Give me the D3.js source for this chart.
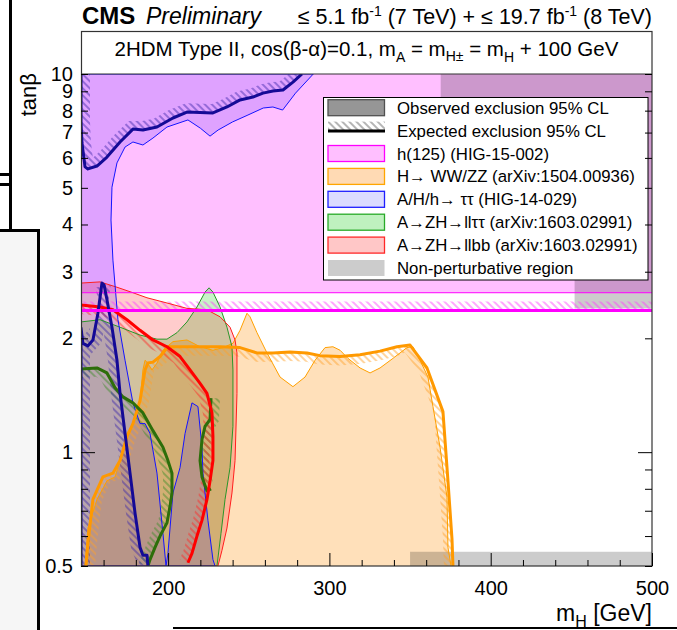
<!DOCTYPE html>
<html>
<head>
<meta charset="utf-8">
<script src="https://cdn.jsdelivr.net/npm/d3@7"></script>
<style>
html, body { margin: 0; padding: 0; background: #fff; }
svg { display: block; font-family: "Liberation Sans", Arial, Helvetica, sans-serif; }
</style>
</head>
<body>
<svg id="chart" width="677" height="630"></svg>
<script>
"use strict";

// ---- data (mH [GeV], tanb) ----
var yTickLabels = [0.5, 1, 2, 3, 4, 5, 6, 7, 8, 9, 10],
	yMinorTicks = [0.6, 0.7, 0.8, 0.9],
	xTickLabels = [200, 300, 400, 500],
	xMinorTicks = [160, 180, 220, 240, 260, 280, 320, 340, 360, 380, 420, 440, 460, 480];

var h125Fill = [[146, 2.64], [500, 2.64], [500, 10], [146, 10]],
	h125Obs = [[146, 2.64], [500, 2.64]],
	h125Exp = [[146, 2.37], [500, 2.37]];

var tauObs = [[146, 10], [290, 10], [279, 8.9], [271, 8.03], [265, 8.18], [259, 8.13], [249.5, 7.79], [240, 7.47],
	[231, 7.11], [226, 6.85], [220, 7.19], [212.3, 7.56], [199.3, 7.24], [190.6, 6.77], [184.4, 6.49], [178.2, 6.61],
	[173.3, 6.41], [168.3, 5.82], [165.2, 5.02], [164.6, 4.11], [165.8, 3.22], [168.9, 2.24], [173.3, 1.75],
	[178.2, 1.35], [182.6, 1.19], [185.7, 1.19], [188.8, 1.12], [193.1, 0.88], [196.8, 0.61], [198.7, 0.5],
	[199.9, 0.54], [203, 0.78], [207.4, 0.91], [210.5, 1.12], [214.8, 1.35], [218.5, 1.32], [221, 1.03],
	[221.6, 0.88], [224.7, 0.66], [227.8, 0.52], [229.1, 0.5], [146, 0.5]];
var tauExpHigh = [[146, 10], [146, 7.47], [146.6, 6.57], [148.5, 5.68], [150.3, 5.61], [155.9, 5.71], [162.1, 6.03],
	[170.2, 6.61], [178.2, 7.15], [184.4, 7.11], [193.1, 7.24], [203, 7.65], [211.7, 7.93], [227.8, 7.89],
	[236.5, 8.18], [244.6, 8.54], [252.6, 8.69], [258.8, 8.9], [265, 9.02], [271.2, 9.07], [277.4, 9.52], [283, 10]];
var tauExpLow = [[146, 0.5], [146, 2.13], [147.2, 1.94], [150.3, 1.91], [153.4, 1.98], [156.5, 2.33], [159, 2.8],
	[160.3, 2.77], [162.1, 2.53], [165.2, 2.14], [168.3, 1.75], [170.2, 1.43], [173.3, 1.12], [176.4, 0.88],
	[179.5, 0.69], [182.6, 0.56], [184.4, 0.534], [186.9, 0.534], [187.5, 0.5]];

var llbbObs = [[146, 2.8], [157.8, 2.82], [168.3, 2.73], [178.2, 2.64], [186.9, 2.56], [199.3, 2.48], [211.7, 2.4],
	[224.1, 2.38], [232.2, 2.28], [238.4, 2.14], [241.5, 1.98], [242.7, 1.83], [242.7, 1.43], [241.5, 0.95],
	[239.6, 0.78], [236.5, 0.63], [233.4, 0.55], [230.9, 0.5], [146, 0.5]];
var llbbExp = [[146, 2.45], [157.8, 2.42], [165.8, 2.38], [174.5, 2.24], [182.6, 2.1], [190.6, 1.98], [199.3, 1.9],
	[207.4, 1.79], [213.6, 1.65], [219.8, 1.52], [224.1, 1.43], [227.2, 1.27], [227.8, 1.1], [227.8, 0.95],
	[226, 0.84], [224.1, 0.75], [221, 0.66], [217.9, 0.6], [214.8, 0.54], [212.3, 0.51]];

var llttObs = [[146, 2.21], [157.8, 2.24], [170.2, 2.14], [182.6, 2.04], [193.1, 1.99], [199.3, 1.99], [205.5, 2.07],
	[211.7, 2.21], [217.9, 2.42], [222.9, 2.65], [225.4, 2.72], [227.8, 2.65], [232.2, 2.42], [236.5, 2.14],
	[239.6, 1.9], [240.2, 1.65], [240.2, 1.17], [238.4, 0.91], [235.3, 0.75], [232.8, 0.61], [230.3, 0.5], [146, 0.5]];
var llttExp = [[146, 1.66], [155.9, 1.67], [162.1, 1.62], [167.1, 1.48], [172, 1.4], [178.2, 1.35], [184.4, 1.27],
	[190.6, 1.14], [196.8, 1.03], [199.9, 0.95], [202.4, 0.88], [202.4, 0.78], [201.2, 0.72], [199.3, 0.65],
	[195, 0.6], [191.9, 0.56], [188.8, 0.52], [187.5, 0.5]];
var llttExpIsland = [[226.6, 1.39], [226, 1.22], [222.9, 1.17], [221, 1.08], [219.8, 0.95], [221, 0.86],
	[224.1, 0.79], [226.6, 0.8]];

var wwzzObs = [[148.5, 0.5], [150.3, 0.63], [155.9, 0.75], [162.1, 0.84], [167.1, 0.86], [170.2, 0.95], [174.5, 1.12],
	[178.2, 1.19], [182.6, 1.37], [184.4, 1.65], [185.7, 1.75], [186.9, 1.73], [190, 1.65], [193.1, 1.72],
	[196.8, 1.86], [203, 1.96], [211.7, 1.98], [219.8, 1.9], [227.8, 1.86], [234, 1.89], [240.2, 1.94],
	[244.6, 2.1], [248.9, 2.33], [250.8, 2.28], [255.1, 2.07], [261.3, 1.83], [269.4, 1.58], [277.4, 1.49],
	[284.9, 1.58], [291.1, 1.75], [297.3, 1.89], [302.2, 1.9], [306.6, 1.86], [311.5, 1.77], [319, 1.67],
	[325.2, 1.62], [331.4, 1.67], [339.4, 1.77], [348.1, 1.89], [351.8, 1.9], [356.2, 1.75], [361.1, 1.58],
	[364.2, 1.32], [368.6, 1.03], [372.9, 0.76], [373.5, 0.56], [375.4, 0.5]];
var wwzzExp = [[149.1, 0.5], [150.3, 0.575], [153.4, 0.75], [159.6, 0.86], [165.8, 0.88], [170.2, 0.95], [174.5, 1.1],
	[178.2, 1.19], [182.6, 1.37], [185.7, 1.65], [187.5, 1.72], [190.6, 1.73], [195, 1.79], [199.9, 1.9],
	[207.4, 1.9], [219.8, 1.9], [232.2, 1.9], [244.6, 1.89], [255.1, 1.83], [265, 1.83], [275.6, 1.84],
	[286.1, 1.83], [294.2, 1.8], [306.6, 1.79], [319, 1.81], [331.4, 1.85], [341.9, 1.9], [350, 1.92],
	[360.5, 1.67], [370.4, 1.28], [373.5, 0.84], [376, 0.59], [376.6, 0.5]];

var npTop = [[369, 10], [500, 10], [500, 2.4], [452, 2.4], [452, 4], [369, 4]],
	npBottom = [[350, 0.5], [500, 0.5], [500, 0.545], [350, 0.545]];

var legendLabels = ["Observed exclusion 95% CL", "Expected exclusion 95% CL", "h(125) (HIG-15-002)",
	"H\u2192 WW/ZZ (arXiv:1504.00936)", "A/H/h\u2192 \u03c4\u03c4 (HIG-14-029)",
	"A\u2192ZH\u2192ll\u03c4\u03c4 (arXiv:1603.02991)", "A\u2192ZH\u2192llbb (arXiv:1603.02991)",
	"Non-perturbative region"];

// ---- styles ----
var col = {
	pink: { fill: "rgb(255,191,255)", line: "rgb(255,0,255)", thick: "rgb(255,0,255)" },
	ww: { fill: "rgba(255,140,0,0.27)", line: "rgb(255,160,0)", thick: "rgb(255,153,0)" },
	tau: { fill: "rgba(40,0,255,0.15)", line: "rgb(20,20,255)", thick: "rgb(20,10,150)" },
	lltt: { fill: "rgba(0,200,0,0.22)", line: "rgb(40,150,40)", thick: "rgb(45,110,10)" },
	llbb: { fill: "rgba(255,0,0,0.2)", line: "rgb(255,30,30)", thick: "rgb(255,0,0)" },
	np: "rgba(0,0,0,0.2)"
};

var svg = d3.select("#chart"),
	x = d3.scaleLinear().domain([146, 500]).range([81, 652]),
	y = d3.scaleLog().domain([0.5, 10]).range([566, 74]);

function px(pts) {
	return pts.map(function(d) { return [x(d[0]), y(d[1])]; });
}

var line = d3.line();

// polygon of width w on one side of a polyline, for the hatched band
function hatchBand(pts, w, side) {
	var n = pts.length, off = [], i, a, b, dx, dy, len;
	for (i = 0; i < n; i++) {
		a = pts[Math.max(i - 1, 0)];
		b = pts[Math.min(i + 1, n - 1)];
		dx = b[0] - a[0];
		dy = b[1] - a[1];
		len = Math.sqrt(dx * dx + dy * dy) || 1;
		off.push([pts[i][0] - side * dy / len * w, pts[i][1] + side * dx / len * w]);
	}
	return pts.concat(off.reverse());
}

// ---- background artefacts at the left edge ----
svg.append("rect").attr("x", 0).attr("y", 231).attr("width", 37).attr("height", 399).attr("fill", "#f6f6f6");
[[9, 0, 3, 231], [0, 173, 11, 3], [0, 183, 11, 3], [0, 229, 40, 3], [37, 229, 3, 401], [173, 627, 504, 2]]
	.forEach(function(r) {
		svg.append("rect").attr("x", r[0]).attr("y", r[1]).attr("width", r[2]).attr("height", r[3]).attr("fill", "#000");
	});

// ---- defs: clip + hatches ----
var defs = svg.append("defs");
defs.append("clipPath").attr("id", "plotClip")
	.append("rect").attr("x", 81).attr("y", 74).attr("width", 571).attr("height", 492);

function hatch(id, color, w) {
	var p = defs.append("pattern").attr("id", id)
		.attr("patternUnits", "userSpaceOnUse")
		.attr("width", 5).attr("height", 5)
		.attr("patternTransform", "rotate(-45)");
	p.append("line").attr("x1", 1).attr("y1", 0).attr("x2", 1).attr("y2", 5)
		.attr("stroke", color).attr("stroke-width", w || 0.9);
}
hatch("h-pink", "rgb(255,60,255)");
hatch("h-ww", "rgb(255,160,40)");
hatch("h-tau", "rgb(60,40,170)");
hatch("h-lltt", "rgb(60,140,40)");
hatch("h-llbb", "rgb(255,40,40)");
hatch("h-leg", "rgb(90,90,90)");

// ---- plot ----
var plotG = svg.append("g").attr("clip-path", "url(#plotClip)");

function fillArea(pts, color) {
	plotG.append("path").attr("d", line(px(pts)) + "Z").attr("fill", color).attr("stroke", "none");
}
function outline(pts, color, width, closed) {
	plotG.append("path").attr("d", line(px(pts)) + (closed ? "Z" : ""))
		.attr("fill", "none").attr("stroke", color).attr("stroke-width", width).attr("stroke-linejoin", "round");
}
function band(pts, id, side) {
	plotG.append("path").attr("d", line(hatchBand(px(pts), 9, side)) + "Z")
		.attr("fill", "url(#" + id + ")").attr("stroke", "none");
}

fillArea(h125Fill, col.pink.fill);
fillArea(wwzzObs, col.ww.fill);
fillArea(llttObs, col.lltt.fill);
fillArea(llbbObs, col.llbb.fill);
fillArea(tauObs, col.tau.fill);
fillArea(npTop, col.np);
fillArea(npBottom, col.np);

band(h125Exp, "h-pink", -1);
band(wwzzExp, "h-ww", 1);
band(llttExp, "h-lltt", 1);
band(llttExpIsland, "h-lltt", -1);
band(llbbExp, "h-llbb", 1);
band(tauExpHigh, "h-tau", -1);
band(tauExpLow, "h-tau", 1);

outline(wwzzObs, col.ww.line, 1, false);
outline(llttObs, col.lltt.line, 1, false);
outline(llbbObs, col.llbb.line, 1, false);
outline(tauObs, col.tau.line, 1, false);
outline(h125Obs, col.pink.line, 1, false);

outline(wwzzExp, col.ww.thick, 3);
outline(llttExp, col.lltt.thick, 3);
outline(llttExpIsland, col.lltt.thick, 3);
outline(llbbExp, col.llbb.thick, 3);
outline(tauExpHigh, col.tau.thick, 3);
outline(tauExpLow, col.tau.thick, 3);
outline(h125Exp, col.pink.thick, 3);

// ---- legend ----
var leg = svg.append("g");
leg.append("rect").attr("x", 323.5).attr("y", 97.5).attr("width", 324.5).attr("height", 182.5)
	.attr("fill", "#fff").attr("stroke", "#000").attr("stroke-width", 1);

var swatches = [
	{ fill: "rgb(150,150,150)", stroke: "rgb(80,80,80)" },
	null,
	{ fill: "rgb(255,191,255)", stroke: "rgb(255,0,255)" },
	{ fill: "rgb(255,218,180)", stroke: "rgb(255,165,0)" },
	{ fill: "rgb(219,219,255)", stroke: "rgb(30,30,255)" },
	{ fill: "rgb(191,241,191)", stroke: "rgb(40,170,40)" },
	{ fill: "rgb(255,199,199)", stroke: "rgb(255,40,40)" },
	{ fill: "rgb(204,204,204)", stroke: "none" }
];

legendLabels.forEach(function(label, i) {
	var cy = 107.7 + i * 22.9;
	if (swatches[i]) {
		leg.append("rect").attr("x", 328).attr("y", cy - 8).attr("width", 56.5).attr("height", 16)
			.attr("fill", swatches[i].fill).attr("stroke", swatches[i].stroke).attr("stroke-width", 1.3);
	} else {
		leg.append("rect").attr("x", 328).attr("y", cy - 9).attr("width", 57).attr("height", 9)
			.attr("fill", "url(#h-leg)");
		leg.append("line").attr("x1", 328).attr("x2", 385).attr("y1", cy + 0.5).attr("y2", cy + 0.5)
			.attr("stroke", "#000").attr("stroke-width", 3);
	}
	leg.append("text").attr("x", 397).attr("y", cy + 6).attr("font-size", 16.8).attr("fill", "#000").text(label);
});

// ---- frame + header box ----
svg.append("rect").attr("x", 81).attr("y", 31).attr("width", 571).attr("height", 43).attr("fill", "#fff");
svg.append("rect").attr("x", 81.5).attr("y", 31.5).attr("width", 570.5).attr("height", 534.5)
	.attr("fill", "none").attr("stroke", "#333").attr("stroke-width", 1.2);
svg.append("line").attr("x1", 81).attr("x2", 652).attr("y1", 74).attr("y2", 74)
	.attr("stroke", "#333").attr("stroke-width", 1.2);

var hdr = svg.append("text").attr("x", 366.5).attr("y", 56).attr("text-anchor", "middle")
	.attr("font-size", 20.5).attr("fill", "#000");
hdr.append("tspan").text("2HDM Type II, cos(\u03b2-\u03b1)=0.1, m");
hdr.append("tspan").attr("dy", 6).attr("font-size", 14).text("A");
hdr.append("tspan").attr("dy", -6).text(" = m");
hdr.append("tspan").attr("dy", 5).attr("font-size", 14).text("H\u00b1");
hdr.append("tspan").attr("dy", -5).text(" = m");
hdr.append("tspan").attr("dy", 6).attr("font-size", 14).text("H");
hdr.append("tspan").attr("dy", -6).text(" + 100 GeV");

// ---- axes ----
function styleAxis(g) {
	g.select(".domain").remove();
	g.attr("font-size", 20).attr("font-family", "'Liberation Sans', Arial, Helvetica, sans-serif");
	g.selectAll(".tick line").attr("stroke", "#000").attr("stroke-width", 1);
	g.selectAll(".tick text").attr("font-size", 20).attr("fill", "#000");
}

var yAxisG = svg.append("g").attr("transform", "translate(81,0)")
	.call(d3.axisLeft(y).tickValues(yTickLabels).tickSize(-7).tickPadding(8).tickFormat(d3.format("")))
	.call(styleAxis);
yAxisG.selectAll(".tick line").filter(function(d) { return d === 1; }).attr("x2", 14);
svg.append("g").attr("transform", "translate(81,0)")
	.call(d3.axisLeft(y).tickValues(yMinorTicks).tickSize(-7).tickFormat(""))
	.call(styleAxis);

var yRightG = svg.append("g").attr("transform", "translate(652,0)")
	.call(d3.axisRight(y).tickValues(yTickLabels.concat(yMinorTicks)).tickSize(-7).tickFormat(""))
	.call(styleAxis);
yRightG.selectAll(".tick line").filter(function(d) { return d === 1; }).attr("x2", -14);

svg.append("g").attr("transform", "translate(0,566)")
	.call(d3.axisBottom(x).tickValues(xTickLabels).tickSize(-13).tickPadding(15).tickFormat(d3.format("")))
	.call(styleAxis);
svg.append("g").attr("transform", "translate(0,566)")
	.call(d3.axisBottom(x).tickValues(xMinorTicks).tickSize(-6).tickFormat(""))
	.call(styleAxis);

// axis titles
svg.append("text").attr("transform", "translate(36,73) rotate(-90)").attr("text-anchor", "end")
	.attr("font-size", 22).attr("fill", "#000").text("tan\u03b2");

var xt = svg.append("text").attr("x", 652).attr("y", 621).attr("text-anchor", "end")
	.attr("font-size", 23).attr("fill", "#000");
xt.append("tspan").text("m");
xt.append("tspan").attr("dy", 6).attr("font-size", 16).text("H");
xt.append("tspan").attr("dy", -6).text(" [GeV]");

// ---- CMS header ----
svg.append("text").attr("x", 82).attr("y", 24).attr("font-size", 24).attr("font-weight", "bold")
	.attr("fill", "#000").text("CMS");
svg.append("text").attr("x", 146).attr("y", 24).attr("font-size", 23).attr("font-style", "italic")
	.attr("fill", "#000").text("Preliminary");

var lumi = svg.append("text").attr("x", 652).attr("y", 24).attr("text-anchor", "end")
	.attr("font-size", 21.5).attr("fill", "#000");
lumi.append("tspan").text("\u2264 5.1 fb");
lumi.append("tspan").attr("dy", -8).attr("font-size", 14).text("-1");
lumi.append("tspan").attr("dy", 8).text(" (7 TeV) + \u2264 19.7 fb");
lumi.append("tspan").attr("dy", -8).attr("font-size", 14).text("-1");
lumi.append("tspan").attr("dy", 8).text(" (8 TeV)");
</script>
</body>
</html>
